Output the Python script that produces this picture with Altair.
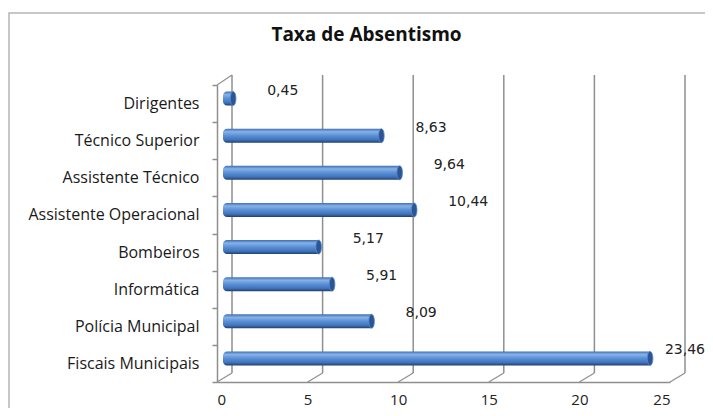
import altair as alt
import pandas as pd

categories = ["Dirigentes", "Técnico Superior", "Assistente Técnico", "Assistente Operacional",
              "Bombeiros", "Informática", "Polícia Municipal", "Fiscais Municipais"]
values = [0.45, 8.63, 9.64, 10.44, 5.17, 5.91, 8.09, 23.46]
x_ticks = [0, 5, 10, 15, 20, 25]
title_text = "Taxa de Absentismo"

df = pd.DataFrame({
    "cat": categories,
    "val": values,
    "label": [f"{v:.2f}".replace(".", ",") for v in values],
})
ticks_df = pd.DataFrame({"t": x_ticks})
one = pd.DataFrame({"k": [0]})

W, H = 453, 297
DX, DY = 15, -9          # depth offset of the pseudo-3D back wall
GRID = "#8f8f8f"

xscale = alt.Scale(domain=[0, 25], nice=False, zero=True)
yscale = alt.Scale(domain=categories, paddingInner=0, paddingOuter=0)

xaxis = alt.Axis(values=x_ticks, title=None, grid=False, ticks=False,
                 domainColor=GRID, domainWidth=1.5, zindex=1,
                 labelFont="Open Sans", labelFontSize=15, labelColor="#222",
                 labelPadding=10)
yaxis = alt.Axis(title=None, domainColor=GRID, domainWidth=1.5, zindex=1,
                 tickColor=GRID, tickWidth=1.5, tickSize=5, tickBand="extent",
                 labelFont="Open Sans", labelFontSize=16, labelColor="#1a1a1a",
                 labelPadding=13)

frame = alt.Chart(one).mark_rect(fillOpacity=0, stroke="#b5b5b5", strokeWidth=1.5).encode(
    x=alt.value(-208), x2=alt.value(700), y=alt.value(-72), y2=alt.value(450)
)

grid = alt.Chart(ticks_df).mark_rule(color=GRID, strokeWidth=1.5, xOffset=DX).encode(
    x=alt.X("t:Q", scale=xscale, axis=xaxis),
    y=alt.value(-10), y2=alt.value(H + DY),
)

diag = alt.Chart(ticks_df).mark_rule(color=GRID, strokeWidth=1.2, x2Offset=DX).encode(
    x=alt.X("t:Q", scale=xscale),
    x2=alt.X2("t:Q"),
    y=alt.value(H), y2=alt.value(H + DY),
)

topdiag = alt.Chart(one).mark_rule(color=GRID, strokeWidth=1.2, x2Offset=DX).encode(
    x=alt.datum(0, scale=xscale),
    x2=alt.datum(0),
    y=alt.value(0), y2=alt.value(-10),
)

grad = alt.Gradient(
    gradient="linear",
    stops=[
        alt.GradientStop(color="#3f6fb0", offset=0),
        alt.GradientStop(color="#86b2e8", offset=0.22),
        alt.GradientStop(color="#5a8fd6", offset=0.5),
        alt.GradientStop(color="#3f72ba", offset=0.8),
        alt.GradientStop(color="#213f6c", offset=1),
    ],
    x1=0, x2=0, y1=0, y2=1,
)

bars = alt.Chart(df).mark_bar(
    color=grad, size=14, xOffset=10, x2Offset=6, yOffset=-5,
    cornerRadiusTopLeft=4, cornerRadiusBottomLeft=4,
    cornerRadiusTopRight=3, cornerRadiusBottomRight=3,
).encode(
    x=alt.X("val:Q", scale=xscale, axis=xaxis),
    x2=alt.datum(0),
    y=alt.Y("cat:N", scale=yscale, sort=categories, axis=yaxis),
)

ELLIPSE = "M0,-1 A0.4,1 0 1,1 0,1 A0.4,1 0 1,1 0,-1 Z"
caps = alt.Chart(df).mark_point(
    shape=ELLIPSE, size=196, filled=True, fill="#2c5593", stroke="#5b8bd0",
    strokeWidth=0.8, opacity=1, xOffset=8, yOffset=-5,
).encode(
    x=alt.X("val:Q", scale=xscale, axis=xaxis),
    y=alt.Y("cat:N", scale=yscale, sort=categories, axis=yaxis),
)

# labels near the right edge are pulled inside so they stay readable
labels = alt.Chart(df).transform_calculate(
    lx="min(datum.val, 22.4)"
).mark_text(
    align="left", baseline="middle", dx=42, dy=-13,
    font="DejaVu Sans", fontSize=14, color="#222",
).encode(
    x=alt.X("lx:Q", scale=xscale, axis=xaxis),
    y=alt.Y("cat:N", scale=yscale, sort=categories, axis=yaxis),
    text="label:N",
)

chart = alt.layer(frame, grid, diag, topdiag, bars, caps, labels).properties(
    width=W, height=H,
    title=alt.TitleParams(title_text, font="Open Sans", fontSize=19, fontWeight="bold",
                          color="#111", anchor="middle", frame="group", dx=-77, offset=-33),
    padding={"left": 209, "top": 77, "right": 35, "bottom": 26},
    autosize=alt.AutoSizeParams(type="none"),
    background="white",
).configure_view(stroke=None)

chart.save("out.html", embed_options={"renderer": "svg", "actions": False})
